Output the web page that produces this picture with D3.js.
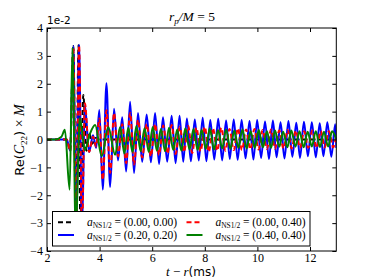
<!DOCTYPE html>
<html>
<head>
<meta charset="utf-8">
<script src="https://cdn.jsdelivr.net/npm/d3@7"></script>
<style>
  body { margin: 0; background: #fff; }
  svg { display: block; }
  .serif { font-family: "Liberation Serif", "DejaVu Serif", serif; }
  .sans { font-family: "DejaVu Sans", sans-serif; }
</style>
</head>
<body>
<div id="chart"></div>
<script>
// values in units of 1e-2, time in ms (extrema)
var blackT = [2.0, 2.75, 2.88, 3.00, 3.10, 3.20, 3.27, 3.38, 3.50, 3.60, 3.72, 3.85, 4.00, 13.0];
var blackV = [0, 0, -0.4, 3.35, -3.4, 3.38, -3.3, 1.6, -0.4, 0.25, -0.15, 0.05, 0, 0];

var blueT = [2.0, 2.75, 2.88, 3.00, 3.11, 3.22, 3.33, 3.44, 3.60, 3.75, 3.87, 3.99, 4.12, 4.26, 4.40,
  4.55, 4.70, 4.86, 5.01, 5.16, 5.31, 5.46, 5.62, 5.79, 5.95, 6.11, 6.26, 6.41, 6.57, 6.74, 6.89,
  7.04, 7.18, 7.32, 7.47, 7.62, 7.77, 7.92, 8.06, 8.21, 8.36, 8.51, 8.66, 8.81, 8.95, 9.10, 9.25,
  9.40, 9.55, 9.70, 9.85, 9.99, 10.14, 10.29, 10.44, 10.59, 10.73, 10.88, 11.03, 11.18, 11.33,
  11.48, 11.62, 11.77, 11.92, 12.07, 12.22, 12.37, 12.51, 12.66, 12.81, 12.96, 13.0];
var blueV = [0, 0, -0.4, 3.35, -3.4, 3.40, -3.3, 1.25, -0.45, 0.15, -0.30, 1.06, -1.80, 2.02, -1.70,
  1.10, -0.75, 0.80, -1.15, 1.35, -1.20, 0.95, -0.80, 0.90, -0.82, 0.95, -0.88, 0.80, -0.80, 0.85, -0.85,
  0.85, -0.80, 0.75, -0.78, 0.72, -0.75, 0.78, -0.78, 0.70, -0.72, 0.74, -0.75, 0.68, -0.70, 0.72, -0.73,
  0.70, -0.68, 0.66, -0.72, 0.70, -0.66, 0.65, -0.70, 0.68, -0.64, 0.62, -0.68, 0.66, -0.62,
  0.60, -0.66, 0.64, -0.60, 0.62, -0.64, 0.58, -0.60, 0.62, -0.62, 0.55, -0.30];

var redT = [2.0, 2.75, 2.88, 3.00, 3.11, 3.22, 3.33, 3.44, 3.60, 3.75, 3.87, 3.99, 4.12, 4.26, 4.40,
  4.55, 4.70, 4.86, 5.01, 5.16, 5.31, 5.46, 5.62, 5.79, 5.95, 6.11, 6.26, 6.42, 6.58, 6.74, 6.89,
  7.05, 7.21, 7.37, 7.52, 7.68, 7.84, 8.00, 8.15, 8.31, 8.47, 8.63, 8.78, 8.94, 9.10, 9.26, 9.41,
  9.57, 9.73, 9.89, 10.04, 10.20, 10.36, 10.52, 10.67, 10.83, 10.99, 11.15, 11.30, 11.46, 11.62,
  11.78, 11.93, 12.09, 12.25, 12.41, 12.56, 12.72, 12.88, 13.0];
var redV = [0, 0, -0.4, 3.30, -3.4, 3.38, -3.3, 1.30, -0.45, 0.10, -0.25, 0.75, -1.45, 1.05, -1.20,
  0.95, -0.60, 0.55, -0.85, 0.95, -0.90, 0.70, -0.65, 0.55, -0.60, 0.55, -0.55, 0.50, -0.50, 0.52, -0.52,
  0.45, -0.45, 0.48, -0.48, 0.42, -0.42, 0.45, -0.44, 0.40, -0.40, 0.42, -0.40, 0.38, -0.38, 0.40, -0.38,
  0.36, -0.35, 0.38, -0.36, 0.34, -0.34, 0.36, -0.33, 0.32, -0.32, 0.34, -0.32, 0.32, -0.30,
  0.30, -0.30, 0.32, -0.30, 0.30, -0.28, 0.30, -0.28, 0.10];

var greenT = [2.0, 2.3, 2.55, 2.68, 2.86, 2.97, 3.09, 3.25, 3.44, 3.63, 3.83, 4.08, 4.33, 4.59, 4.78,
  4.94, 5.09, 5.25, 5.40, 5.56, 5.71, 5.87, 6.02, 6.18, 6.33, 6.49, 6.64, 6.80, 6.95, 7.11, 7.26,
  7.42, 7.57, 7.73, 7.88, 8.04, 8.19, 8.35, 8.50, 8.66, 8.81, 8.97, 9.12, 9.28, 9.43, 9.59, 9.74,
  9.90, 10.05, 10.21, 10.36, 10.52, 10.67, 10.83, 10.98, 11.14, 11.29, 11.45, 11.60, 11.76, 11.91,
  12.07, 12.22, 12.38, 12.53, 12.69, 12.84, 13.0];
var greenV = [0, 0, 0.1, 0.35, -1.8, 3.30, -3.3, 0.77, -0.38, 0.20, 0.52, -0.60, 0.45, -0.55, 0.45,
  -0.50, 0.42, -0.45, 0.48, -0.42, 0.40, -0.45, 0.45, -0.40, 0.38, -0.42, 0.42, -0.38, 0.36, -0.40, 0.40,
  -0.36, 0.38, -0.38, 0.35, -0.34, 0.40, -0.36, 0.34, -0.32, 0.36, -0.34, 0.32, -0.30, 0.36, -0.32, 0.30,
  -0.30, 0.34, -0.28, 0.30, -0.30, 0.32, -0.26, 0.28, -0.28, 0.32, -0.26, 0.30, -0.28, 0.28,
  -0.25, 0.30, -0.27, 0.28, -0.25, 0.30, 0.0];

var xTicks = [2, 4, 6, 8, 10, 12];
var yTicks = [-4, -3, -2, -1, 0, 1, 2, 3, 4];
var legendLabels = ["(0.00, 0.00)", "(0.20, 0.20)", "(0.00, 0.40)", "(0.40, 0.40)"];

var W = 374, H = 280;
var m = {left: 47, right: 37.7, top: 28, bottom: 29};

var svg = d3.select("#chart").append("svg")
  .attr("width", W).attr("height", H);

var x = d3.scaleLinear().domain([2, 13]).range([m.left, W - m.right]);
var y = d3.scaleLinear().domain([-4, 4]).range([H - m.bottom, m.top]);

svg.append("clipPath").attr("id", "clip")
  .append("rect")
  .attr("x", m.left).attr("y", m.top)
  .attr("width", x(13) - m.left).attr("height", y(-4) - m.top);

function zip(ts, vs) {
  return ts.map(function(t, i) { return [t, vs[i]]; });
}

var series = [
  {name: "black", data: zip(blackT, blackV), color: "#000000", dash: "5,3", label: legendLabels[0]},
  {name: "blue", data: zip(blueT, blueV), color: "#0000ff", dash: null, label: legendLabels[1]},
  {name: "red", data: zip(redT, redV), color: "#ff0000", dash: "5,3", label: legendLabels[2]},
  {name: "green", data: zip(greenT, greenV), color: "#008000", dash: null, label: legendLabels[3]}
];

var line = d3.line()
  .x(function(d) { return x(d[0]); })
  .y(function(d) { return y(d[1]); })
  .curve(d3.curveMonotoneX);

svg.append("g").attr("clip-path", "url(#clip)")
  .selectAll("path")
  .data(series)
  .enter()
  .append("path")
  .attr("d", function(d) { return line(d.data); })
  .attr("fill", "none")
  .attr("stroke", function(d) { return d.color; })
  .attr("stroke-width", 2)
  .attr("stroke-dasharray", function(d) { return d.dash; });

// axes, ticks pointing inward on all four sides
var axBottom = svg.append("g")
  .attr("transform", "translate(0," + y(-4) + ")")
  .call(d3.axisBottom(x).tickValues(xTicks).tickSizeInner(-4).tickSizeOuter(0).tickPadding(2));
var axTop = svg.append("g")
  .attr("transform", "translate(0," + y(4) + ")")
  .call(d3.axisTop(x).tickValues(xTicks).tickSizeInner(-4).tickSizeOuter(0).tickFormat(""));
var axLeft = svg.append("g")
  .attr("transform", "translate(" + x(2) + ",0)")
  .call(d3.axisLeft(y).tickValues(yTicks).tickSizeInner(-4).tickSizeOuter(0).tickPadding(4)
    .tickFormat(function(d) { return d < 0 ? "\u2212" + (-d) : d; }));
var axRight = svg.append("g")
  .attr("transform", "translate(" + x(13) + ",0)")
  .call(d3.axisRight(y).tickValues(yTicks).tickSizeInner(-4).tickSizeOuter(0).tickFormat(""));

[axBottom, axTop, axLeft, axRight].forEach(function(g) {
  g.select(".domain").remove();
  g.attr("font-family", null).attr("font-size", null);
  g.selectAll("text").attr("class", "serif").style("font-size", "12px");
});

svg.append("rect")
  .attr("x", x(2)).attr("y", y(4))
  .attr("width", x(13) - x(2)).attr("height", y(-4) - y(4))
  .attr("fill", "none").attr("stroke", "#000").attr("stroke-width", 1);

// legend
var lg = svg.append("g");
lg.append("rect")
  .attr("x", 52.5).attr("y", 211.5).attr("width", 257.5).attr("height", 34.5)
  .attr("fill", "#fff").attr("stroke", "#000").attr("stroke-width", 1);

var slots = [[58, 222.3], [58, 235], [186.5, 222.3], [186.5, 235]];
series.forEach(function(s, i) {
  var p = slots[i];
  lg.append("line")
    .attr("x1", p[0]).attr("x2", p[0] + 16)
    .attr("y1", p[1]).attr("y2", p[1])
    .attr("stroke", s.color).attr("stroke-width", 2)
    .attr("stroke-dasharray", s.dash);
  var t = lg.append("text").attr("class", "serif")
    .attr("x", p[0] + 29).attr("y", p[1] + 3.5)
    .style("font-size", "11.5px")
    .attr("textLength", 90).attr("lengthAdjust", "spacing");
  t.append("tspan").style("font-style", "italic").text("a");
  t.append("tspan").attr("dy", 2).style("font-size", "7.5px").text("NS1/2");
  t.append("tspan").attr("dy", -2).text(" = " + s.label);
});

// title
var title = svg.append("text").attr("class", "serif")
  .attr("x", 192).attr("y", 21).attr("text-anchor", "middle")
  .style("font-size", "13.5px");
title.append("tspan").style("font-style", "italic").text("r");
title.append("tspan").attr("dy", 2.5).style("font-size", "9px").style("font-style", "italic").text("p");
title.append("tspan").attr("dy", -2.5).style("font-style", "italic").text("/M");
title.append("tspan").text(" = 5");

// exponent label
svg.append("text").attr("class", "sans")
  .attr("x", 47).attr("y", 24)
  .style("font-size", "10.5px").text("1e-2");

// x label
var xl = svg.append("text").attr("class", "serif")
  .attr("x", 191).attr("y", 276).attr("text-anchor", "middle")
  .style("font-size", "13px");
xl.append("tspan").style("font-style", "italic").text("t");
xl.append("tspan").text(" \u2212 ");
xl.append("tspan").style("font-style", "italic").text("r");
xl.append("tspan").attr("class", "sans").style("font-size", "12px").text("(ms)");

// y label
var yl = svg.append("text").attr("class", "sans")
  .attr("transform", "translate(24,140) rotate(-90)")
  .attr("text-anchor", "middle")
  .style("font-size", "13px");
yl.append("tspan").text("Re(");
yl.append("tspan").attr("class", "serif").style("font-style", "italic").style("font-size", "14px").text("C");
yl.append("tspan").attr("class", "serif").attr("dy", 2.5).style("font-size", "9px").text("22");
yl.append("tspan").attr("dy", -2.5).text(")");
yl.append("tspan").attr("class", "serif").style("font-size", "14px").text(" \u00d7 ");
yl.append("tspan").attr("class", "serif").style("font-style", "italic").style("font-size", "14px").text("M");
</script>
</body>
</html>
